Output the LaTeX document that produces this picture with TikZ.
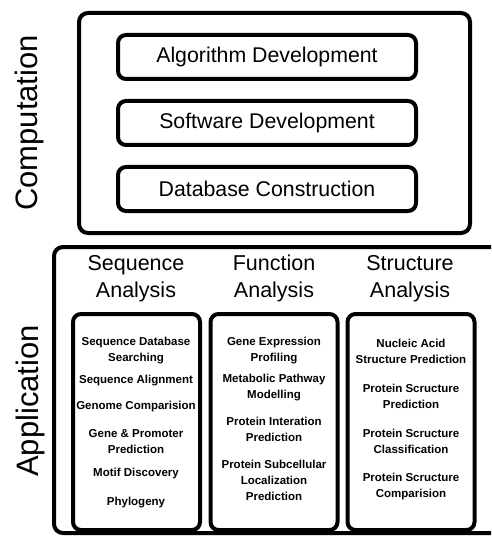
\documentclass[tikz,border=0pt]{standalone}
\usepackage{fontspec}
\setmainfont{Liberation Sans}
\usetikzlibrary{positioning}

\tikzset{
	outerbox/.style = {line width=4pt, rounded corners=9pt},
	compbox/.style = {draw, line width=4pt, rounded corners=8pt, minimum width=298pt, minimum height=44pt, font=\fontsize{21.3}{25}\selectfont},
	colbox/.style = {draw, line width=4pt, rounded corners=8pt, minimum width=127pt, minimum height=216pt},
	header/.style = {align=center, anchor=north, font=\fontsize{21.5}{27}\selectfont},
	item/.style = {align=center, font=\bfseries\fontsize{11.5}{16}\selectfont},
	sidelabel/.style = {rotate=90, font=\fontsize{31}{36}\selectfont}
}

\begin{document}
\begin{tikzpicture}[x=1pt, y=-1pt]
		\useasboundingbox (0,0) rectangle (491,537);
		
		% computation part
		\draw[outerbox] (79,13) rectangle (470,233);
		\node [sidelabel] (comp) at (29,123) {Computation};
		\node [compbox] (algo) at (267,57) {Algorithm Development};
		\node [compbox] (soft) at (267,123) {Software Development};
		\node [compbox] (data) at (267,189) {Database Construction};
		
		% application part
		\draw[outerbox] (491,247) -- (54,247) -- (54,533) -- (491,533);
		\node [sidelabel] (appl) at (30,401) {Application};
		
		\node [header] (seq) at (136,252) {Sequence\\Analysis};
		\node [header] (fun) at (274,251) {Function\\Analysis};
		\node [header] (str) at (410,252) {Structure\\Analysis};
		
		\node [colbox] (seqbox) at (136.5,422) {};
		\node [colbox] (funbox) at (274,422) {};
		\node [colbox] (strbox) at (411,422) {};
		
		\node [item] (s1) at (136,351) {Sequence Database\\Searching};
		\node [item] (s2) at (136,381) {Sequence Alignment};
		\node [item] (s3) at (136,407) {Genome Comparision};
		\node [item] (s4) at (136,442) {Gene \& Promoter\\Prediction};
		\node [item] (s5) at (136,474) {Motif Discovery};
		\node [item] (s6) at (136,503) {Phylogeny};
		
		\node [item] (f1) at (274,351) {Gene Expression\\Profiling};
		\node [item] (f2) at (274,388) {Metabolic Pathway\\Modelling};
		\node [item] (f3) at (274,429) {Protein Interation\\Prediction};
		\node [item] (f4) at (274,480) {Protein Subcellular\\Localization\\Prediction};
		
		\node [item] (t1) at (411,351) {Nucleic Acid\\Structure Prediction};
		\node [item] (t2) at (411,396) {Protein Scructure\\Prediction};
		\node [item] (t3) at (411,441) {Protein Scructure\\Classification};
		\node [item] (t4) at (411,487) {Protein Scructure\\Comparision};
		
		\end{tikzpicture}
\end{document}
